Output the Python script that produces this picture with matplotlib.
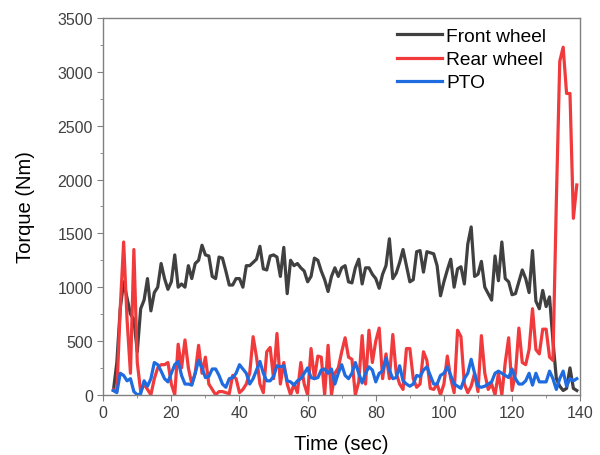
import matplotlib.pyplot as plt
from matplotlib.ticker import MultipleLocator

# sample times (s)
time_s = list(range(3, 140))

front_wheel = [
    40, 300, 800, 1050, 900, 750, 700, 400, 800, 880,            # 3-12
    1080, 780, 950, 1000, 1220, 1080, 980, 1050, 1300, 1000,     # 13-22
    1030, 1000, 1200, 1080, 1220, 1250, 1390, 1300, 1290, 1100,  # 23-32
    1080, 1280, 1270, 1150, 1020, 1020, 1080, 1080, 1000, 1200,  # 33-42
    1200, 1230, 1260, 1380, 1170, 1160, 1290, 1300, 1280, 1100,  # 43-52
    1370, 940, 1250, 1200, 1220, 1180, 1150, 1050, 1100, 1270,   # 53-62
    1250, 1150, 1070, 960, 1100, 1180, 1100, 1180, 1200, 1050,   # 63-72
    1040, 1180, 1260, 1030, 1180, 1180, 1120, 1080, 990, 1120,   # 73-82
    1200, 1450, 1080, 1130, 1230, 1350, 1200, 1050, 1070, 1330,  # 83-92
    1340, 1140, 1330, 1320, 1310, 1200, 920, 1050, 1160, 1260,   # 93-102
    1000, 1170, 1190, 1030, 1400, 1560, 1100, 1120, 1240, 1000,  # 103-112
    940, 880, 1290, 1060, 1420, 1080, 1050, 930, 940, 1050,      # 113-122
    1160, 1080, 950, 1340, 870, 800, 970, 820, 910, 500,         # 123-132
    150, 80, 40, 60, 250, 60, 40,                                # 133-139
]

rear_wheel = [
    50, 30, 800, 1420, 700, 200, 1350, 300, 30, 100,             # 3-12
    50, 0, 150, 250, 280, 280, 300, 100, 0, 470,                 # 13-22
    250, 510, 250, 100, 200, 460, 200, 350, 100, 50,             # 23-32
    0, 30, 30, 20, 10, 180, 150, 20, 50, 100,                    # 33-42
    200, 540, 350, 100, 20, 400, 440, 150, 570, 100,             # 43-52
    300, 100, 0, 100, 20, 300, 100, 0, 430, 150,                 # 53-62
    360, 350, 0, 460, 0, 200, 250, 400, 530, 350,                # 63-72
    330, 0, 120, 550, 100, 600, 300, 500, 620, 150,              # 73-82
    380, 150, 560, 200, 100, 50, 430, 430, 150, 70,              # 83-92
    100, 400, 320, 60, 50, 100, 0, 100, 360, 150,                # 93-102
    20, 600, 540, 100, 20, 80, 200, 30, 550, 200,                # 103-112
    50, 100, 0, 200, 0, 300, 530, 40, 200, 620,                  # 113-122
    300, 280, 420, 800, 420, 380, 610, 610, 350, 320,            # 123-132
    1800, 3100, 3230, 2800, 2800, 1640, 1950,                    # 133-139
]

pto = [
    40, 20, 200, 180, 130, 150, 30, 0, 10, 130,                  # 3-12
    80, 150, 300, 280, 220, 150, 120, 200, 280, 310,             # 13-22
    180, 100, 100, 90, 200, 320, 250, 160, 170, 240,             # 23-32
    240, 180, 100, 70, 150, 160, 200, 280, 240, 200,             # 33-42
    100, 150, 230, 310, 200, 130, 130, 170, 270, 260,            # 43-52
    270, 130, 120, 90, 130, 150, 200, 250, 160, 150,             # 53-62
    160, 230, 240, 200, 240, 100, 200, 280, 180, 150,            # 63-72
    200, 300, 200, 110, 200, 260, 230, 120, 200, 220,            # 73-82
    340, 230, 150, 160, 270, 130, 100, 80, 100, 180,             # 83-92
    170, 230, 260, 180, 100, 100, 180, 200, 260, 180,            # 93-102
    100, 80, 60, 150, 200, 330, 200, 80, 70, 80,                 # 103-112
    100, 120, 200, 220, 200, 180, 160, 240, 150, 100,            # 113-122
    100, 130, 200, 90, 200, 120, 120, 120, 220, 150,             # 123-132
    50, 150, 220, 80, 150, 130, 150,                             # 133-139
]

plt.rcParams['font.family'] = ['Liberation Sans', 'DejaVu Sans']

fig = plt.figure(figsize=(6, 4.56), dpi=100)
ax = fig.add_axes([0.172, 0.132, 0.795, 0.826])

ax.plot(time_s, front_wheel, color='#404040', lw=2.3, label='Front wheel')
ax.plot(time_s, rear_wheel, color='#f03a3c', lw=2.3, label='Rear wheel')
ax.plot(time_s, pto, color='#1f6be0', lw=2.3, label='PTO')

ax.set_xlim(0, 140)
ax.set_ylim(0, 3500)
ax.xaxis.set_major_locator(MultipleLocator(20))
ax.xaxis.set_minor_locator(MultipleLocator(10))
ax.yaxis.set_major_locator(MultipleLocator(500))
ax.yaxis.set_minor_locator(MultipleLocator(250))

for s in ax.spines.values():
    s.set_color('#808080')
    s.set_linewidth(1.0)
ax.tick_params(which='both', direction='out', color='#808080', labelsize=11.5,
               labelcolor='#404040', top=False, right=False)
ax.tick_params(which='major', length=4)
ax.tick_params(which='minor', length=2.5)

ax.set_xlabel('Time (sec)', fontsize=14.5, labelpad=10)
ax.set_ylabel('Torque (Nm)', fontsize=14.5, labelpad=16)

ax.legend(loc='upper right', frameon=False, fontsize=13.8, handlelength=2.3,
          handletextpad=0.25, labelspacing=0.3, borderaxespad=0.0,
          bbox_to_anchor=(0.945, 0.995))

fig.savefig('out.png', dpi=100)
